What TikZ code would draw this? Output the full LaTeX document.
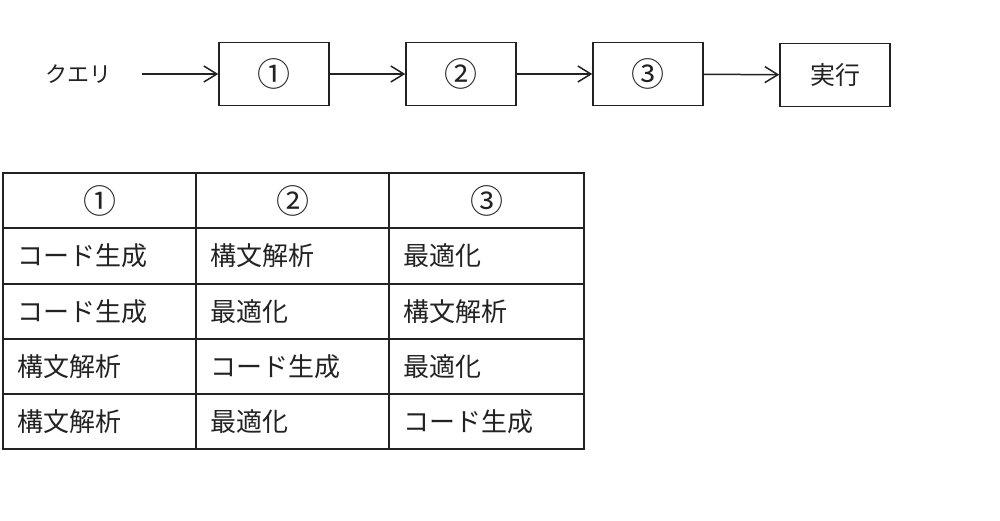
\documentclass[tikz,border=0pt]{standalone}
\usepackage{fontspec}
\setmainfont{Noto Sans CJK JP}
\usetikzlibrary{arrows.meta}
\definecolor{ink}{HTML}{222222}
\begin{document}
\begin{tikzpicture}[x=1pt,y=-1pt, line width=1.5pt, draw=ink, text=ink,
  box/.style={draw, minimum width=110pt, minimum height=63pt, inner sep=0pt, font=\fontsize{25}{30}\selectfont},
  num/.style={font=\fontsize{33}{36}\selectfont},
  arr/.style={-{Straight Barb[length=13pt,width=16pt]}},
  hcell/.style={draw, minimum height=55pt, inner sep=0pt, font=\fontsize{33}{36}\selectfont},
  cell/.style={draw, minimum height=55pt, inner xsep=14pt, inner ysep=0pt, align=left, font=\fontsize{26}{30}\selectfont}
]
\useasboundingbox (0,0) rectangle (1000,520);
% flow
\node[font=\fontsize{22}{26}\selectfont, inner sep=0pt] (q) at (78,74) {クエリ};
\node[box, num] (b1) at (274,74) {①};
\node[box, num] (b2) at (461,74) {②};
\node[box, num] (b3) at (648,74) {③};
\node[box] (ex) at (835,75) {実行};
\draw[arr, shorten <=30pt] (q) -- (b1);
\draw[arr] (b1) -- (b2);
\draw[arr] (b2) -- (b3);
\draw[arr] (b3) -- (ex);
% table
\node[hcell, minimum width=193pt] (h1) at (99.5,200.5) {①};
\node[hcell, minimum width=193pt] (h2) at (292.5,200.5) {②};
\node[hcell, minimum width=195pt] (h3) at (486.5,200.5) {③};
\foreach \r/\y/\a/\b/\c in {1/256/コード生成/構文解析/最適化,
                           2/311.5/コード生成/最適化/構文解析,
                           3/366.5/構文解析/コード生成/最適化,
                           4/421.5/構文解析/最適化/コード生成}{
  \node[cell, text width=165pt] (c\r a) at (99.5,\y) {\a};
  \node[cell, text width=165pt] (c\r b) at (292.5,\y) {\b};
  \node[cell, text width=167pt] (c\r c) at (486.5,\y) {\c};
}
\end{tikzpicture}
\end{document}
